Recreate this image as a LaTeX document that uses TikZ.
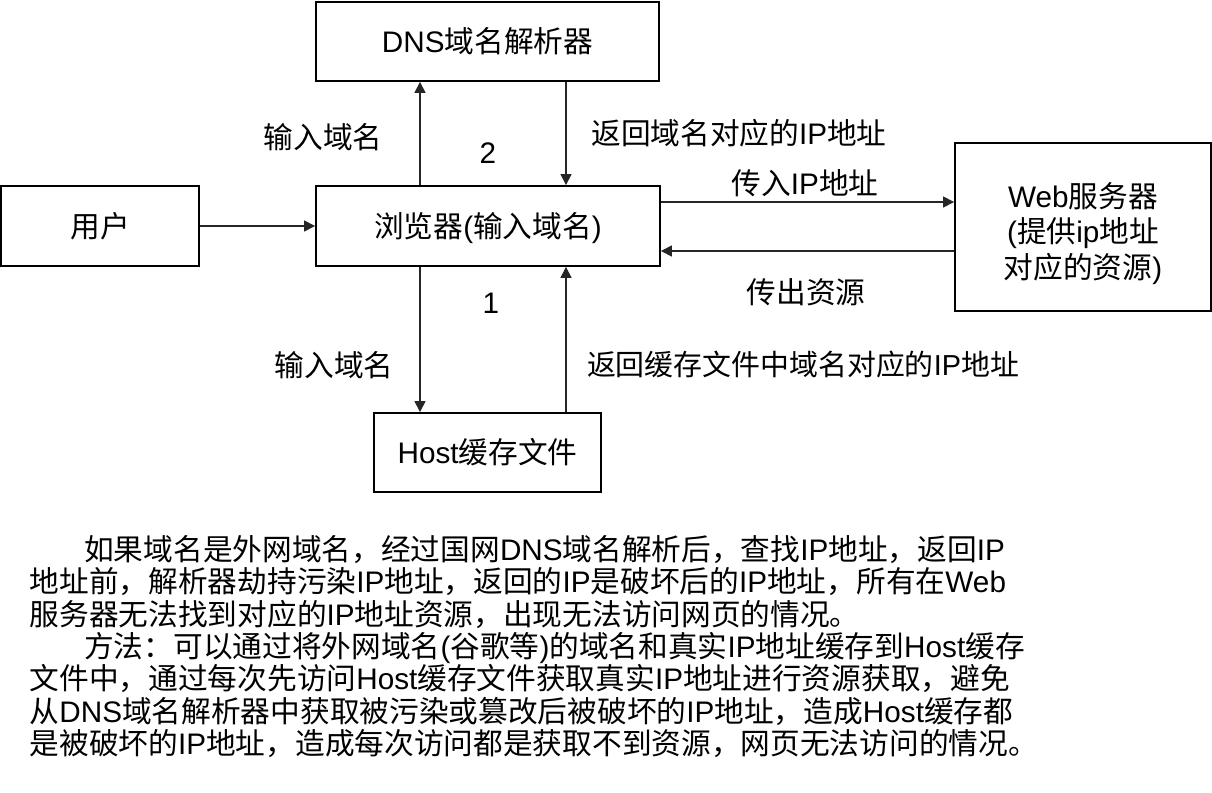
\documentclass[tikz,border=0pt]{standalone}
\usepackage{fontspec}
\setmainfont{Liberation Sans}
\newfontfamily\latinfont{Liberation Sans}
\newfontfamily\cjkfont{Noto Sans CJK SC}
\usetikzlibrary{arrows.meta}

% Switch automatically between the Latin and the CJK font
\newXeTeXintercharclass\CJKclass
\newcount\clscode
\def\setclass#1#2#3{\clscode=#1\relax
  \loop\XeTeXcharclass\clscode=#3\relax
  \ifnum\clscode<#2\relax\advance\clscode by 1\relax\repeat}
\setclass{"21}{"7E}{0}
\setclass{"3000}{"303F}{\CJKclass}
\setclass{"4E00}{"9FFF}{\CJKclass}
\setclass{"FF00}{"FFEF}{\CJKclass}
\XeTeXinterchartokenstate=1
\XeTeXinterchartoks 0 \CJKclass={\cjkfont}
\XeTeXinterchartoks 4095 \CJKclass={\cjkfont}
\XeTeXinterchartoks 255 \CJKclass={\cjkfont}
\XeTeXinterchartoks \CJKclass 0={\latinfont}
\XeTeXinterchartoks 4095 0={\latinfont}

\begin{document}
\begin{tikzpicture}[x=1pt,y=-1pt,
  basefont/.style={font=\fontsize{29.7}{35.5}\selectfont, inner sep=0pt},
  txt/.style={basefont, text height=22.6pt, text depth=0pt},
  box/.style={draw=black, line width=1.8pt, align=center},
  lbl/.style={txt},
  para/.style={txt, anchor=base west},
  arr/.style={draw=black!85, line width=1.1pt,
    -{Triangle[length=11pt,width=11pt]}}]

\path[fill=white, use as bounding box] (0,0) rectangle (1212,792);

% boxes
\node[txt, box, minimum width=198pt, minimum height=80pt] (user) at (100,226) {用户};
\node[txt, box, minimum width=344pt, minimum height=80pt] (browser) at (488,226) {浏览器(输入域名)};
\node[txt, box, minimum width=343pt, minimum height=79pt] (dns) at (487.5,41.5) {DNS域名解析器};
\node[txt, box, minimum width=227pt, minimum height=79pt] (host) at (487.5,452.5) {Host缓存文件};
\node[basefont, box, minimum width=256pt, minimum height=168pt] (web) at (1083,227)
  {\rule{0pt}{38pt}Web服务器\\(提供ip地址\\对应的资源)};

% connector lanes
\coordinate (xl) at (420,0);
\coordinate (xr) at (566,0);
\coordinate (yt) at (0,202);
\coordinate (yb) at (0,251);

% connectors
\draw[arr] (user) -- (browser);
\draw[arr] (browser.north -| xl) -- (dns.south -| xl);
\draw[arr] (dns.south -| xr) -- (browser.north -| xr);
\draw[arr] (browser.south -| xl) -- (host.north -| xl);
\draw[arr] (host.north -| xr) -- (browser.south -| xr);
\draw[arr] (browser.east |- yt) -- (web.west |- yt);
\draw[arr] (web.west |- yb) -- (browser.east |- yb);

% connector labels
\node[lbl] (qin) at (323,137) {输入域名};
\node[lbl] (n2) at (488,152) {2};
\node[lbl] (qback) at (739,133) {返回域名对应的IP地址};
\node[lbl] (send) at (805,183) {传入IP地址};
\node[lbl] (recv) at (806,292) {传出资源};
\node[lbl] (n1) at (491,302) {1};
\node[lbl] (hin) at (334,365) {输入域名};
\node[lbl, font=\fontsize{28.9}{34}\selectfont] (hback) at (803,364) {返回缓存文件中域名对应的IP地址};

% explanation
\node[para] (p1) at (84,560.3) {如果域名是外网域名，经过国网DNS域名解析后，查找IP地址，返回IP};
\node[para] (p2) at (29.5,592.7) {地址前，解析器劫持污染IP地址，返回的IP是破坏后的IP地址，所有在Web};
\node[para] (p3) at (29.5,625.1) {服务器无法找到对应的IP地址资源，出现无法访问网页的情况。};
\node[para] (p4) at (84,657.5) {方法：可以通过将外网域名(谷歌等)的域名和真实IP地址缓存到Host缓存};
\node[para] (p5) at (29.5,689.9) {文件中，通过每次先访问Host缓存文件获取真实IP地址进行资源获取，避免};
\node[para] (p6) at (29.5,722.3) {从DNS域名解析器中获取被污染或篡改后被破坏的IP地址，造成Host缓存都};
\node[para] (p7) at (29.5,754.7) {是被破坏的IP地址，造成每次访问都是获取不到资源，网页无法访问的情况。};
\end{tikzpicture}
\end{document}
